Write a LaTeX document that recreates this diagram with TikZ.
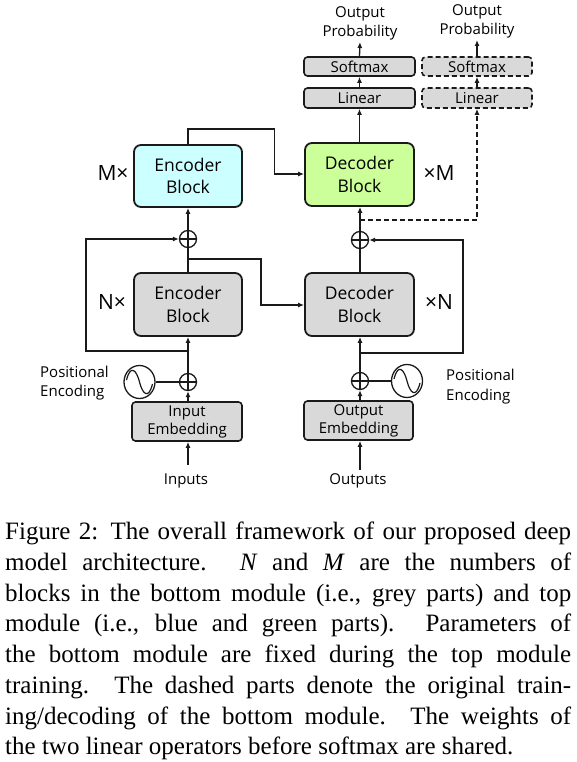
\documentclass[tikz,border=0pt]{standalone}
\usepackage{fontspec}
\setmainfont{Liberation Serif}
\newfontfamily\dfont{Open Sans}
\usetikzlibrary{arrows.meta,calc,shapes.geometric}
\definecolor{greyC}{HTML}{D9D9D9}
\definecolor{blueC}{HTML}{CCFFFF}
\definecolor{greenC}{HTML}{CCFF99}
\definecolor{edgeC}{HTML}{1A1A1A}
\begin{document}
\begin{tikzpicture}[x=1pt,y=-1pt,
  bigbox/.style={draw=edgeC,line width=1.8pt,rounded corners=7pt,align=center,inner sep=0pt,
     font=\dfont\fontsize{17.5}{22.5}\selectfont},
  smallbox/.style={draw=edgeC,line width=1.6pt,rounded corners=3.5pt,fill=greyC,align=center,inner sep=0pt,
     font=\dfont\fontsize{15}{18}\selectfont},
  dashedge/.style={dash pattern=on 5pt off 3pt},
  lbl/.style={inner sep=0pt,align=center,font=\dfont\fontsize{15}{19.5}\selectfont},
  mult/.style={inner sep=0pt,font=\dfont\fontsize{21}{24}\selectfont},
  addop/.style={draw=edgeC,line width=1.3pt,circle,minimum size=17pt,inner sep=0pt,
     path picture={\draw[line width=1.3pt] (path picture bounding box.north) -- (path picture bounding box.south)
        (path picture bounding box.west) -- (path picture bounding box.east);}},
  sinop/.style={draw=edgeC,line width=1.3pt,ellipse,minimum width=31pt,minimum height=33pt,inner sep=0pt},
  conn/.style={line width=1.3pt,draw=edgeC},
  arr/.style={conn,-{Latex[length=6pt,width=5pt]}}
]
\useasboundingbox (0,0) rectangle (576,762);

% blocks
\node[bigbox,fill=blueC,minimum width=108pt,minimum height=62pt] (encT) at (188,176) {Encoder\\Block};
\node[bigbox,fill=greenC,minimum width=109pt,minimum height=63pt] (decT) at (359.5,174.5) {Decoder\\Block};
\node[bigbox,fill=greyC,minimum width=108pt,minimum height=63pt] (encG) at (188,304.5) {Encoder\\Block};
\node[bigbox,fill=greyC,minimum width=109pt,minimum height=63pt] (decG) at (359.5,304.5) {Decoder\\Block};
\node[smallbox,minimum width=110pt,minimum height=39pt] (inEmb) at (187,421.5) {Input\\Embedding};
\node[smallbox,minimum width=109pt,minimum height=39pt] (outEmb) at (358.5,420.5) {Output\\Embedding};
\node[smallbox,minimum width=111pt,minimum height=19pt] (softL) at (359.5,66.5) {Softmax};
\node[smallbox,minimum width=111pt,minimum height=20pt] (linL) at (359.5,98) {Linear};
\node[smallbox,dashedge,minimum width=110pt,minimum height=19pt] (softR) at (477,66.5) {Softmax};
\node[smallbox,dashedge,minimum width=110pt,minimum height=20pt] (linR) at (477,98) {Linear};

% operators
\node[addop] (pEncT) at (188,239) {};
\node[addop] (pDecT) at (360,240) {};
\node[addop] (pEncB) at (188,382) {};
\node[addop] (pDecB) at (360,381) {};
\node[sinop] (sEnc) at (139.5,382) {};
\node[sinop] (sDec) at (407,381) {};
\foreach \s in {sEnc,sDec}{
  \draw[line width=1.2pt,draw=edgeC] ($(\s.center)+(-13,-2)$)
    .. controls ($(\s.center)+(-9,-18)$) and ($(\s.center)+(-3,-12)$) .. (\s.center)
    .. controls ($(\s.center)+(3,12)$) and ($(\s.center)+(9,18)$) .. ($(\s.center)+(13,2)$);
}

% labels
\node[lbl] (opL) at (360,23.5) {Output\\Probability};
\node[lbl] (opR) at (477,21.5) {Output\\Probability};
\node[mult] (mL) at (113,173) {M×};
\node[mult] (mR) at (439,173) {×M};
\node[mult] (nL) at (112,302) {N×};
\node[mult] (nR) at (439,302) {×N};
\node[lbl,anchor=west,align=left] (peL) at (40,383) {Positional\\Encoding};
\node[lbl,anchor=west,align=left] (peR) at (446,386.5) {Positional\\Encoding};
\node[lbl] (inp) at (186,481) {Inputs};
\node[lbl] (outp) at (358,481) {Outputs};

\coordinate (cIn) at (188,465);
\coordinate (cOut) at (360,470);
\coordinate (cOpL) at (360,42);
\coordinate (cOpR) at (477,40);

% encoder side
\draw[arr] (cIn) -- (inEmb.south -| cIn);
\draw[arr] (inEmb.north -| pEncB) -- (pEncB.south);
\draw[conn] (sEnc.east) -- (pEncB.west);
\draw[arr] (pEncB.north) -- (encG.south);
\draw[arr] (188,351) -- (86,351) -- (86,239) -- (pEncT.west);
\draw[conn] (encG.north) -- (pEncT.south);
\draw[arr] (pEncT.north) -- (encT.south);
\draw[arr] (188,259) -- (261,259) -- (261,305) -- (decG.west |- 0,305);
\draw[arr] (encT.north) -- (188,129) -- (274.5,129) -- (274.5,174) -- (decT.west |- 0,174);

% decoder side
\draw[arr] (cOut) -- (outEmb.south -| cOut);
\draw[arr] (outEmb.north -| pDecB) -- (pDecB.south);
\draw[conn] (sDec.west) -- (pDecB.east);
\draw[arr] (pDecB.north) -- (decG.south -| pDecB);
\draw[arr] (360,353) -- (463,353) -- (463,240) -- (pDecT.east);
\draw[conn] (decG.north -| pDecT) -- (pDecT.south);
\draw[arr] (pDecT.north) -- (decT.south -| pDecT);
\draw[arr,dashedge] (360,220) -- (477,220) -- (linR.south);
\draw[arr] (decT.north -| linL) -- (linL.south);
\draw[arr] (linL.north) -- (softL.south);
\draw[arr] (softL.north) -- (cOpL);
\draw[arr] (linR.north) -- (softR.south);
\draw[arr] (softR.north) -- (cOpR);

% caption
\node[anchor=north west,inner sep=0pt,text width=566pt,align=justify,
  font=\fontsize{25}{30.7}\selectfont] (cap) at (5,522) {%
\tolerance=9999\emergencystretch=20pt\hyphenpenalty=10000
\spaceskip=0.25em plus 0.3em minus 0.15em
Figure 2: The overall framework of our proposed deep\linebreak
model architecture. \textit{N} and \textit{M} are the numbers of\linebreak
blocks in the bottom module (i.e., grey parts) and top\linebreak
module (i.e., blue and green parts). Parameters of\linebreak
the bottom module are fixed during the top module\linebreak
training. The dashed parts denote the original train-\linebreak
ing/decoding of the bottom module. The weights of\linebreak
the two linear operators before softmax are shared.};
\end{tikzpicture}
\end{document}
